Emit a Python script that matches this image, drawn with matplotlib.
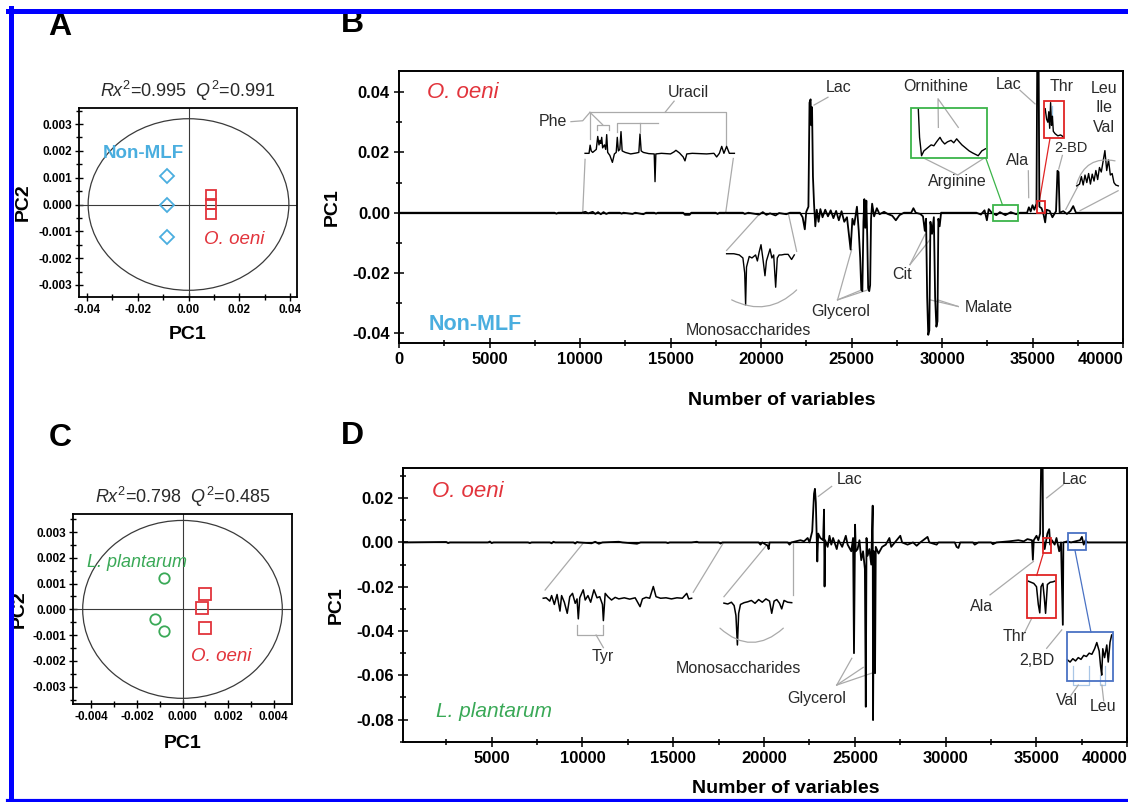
import numpy as np
import matplotlib.pyplot as plt
from matplotlib.patches import Ellipse, Rectangle
from matplotlib.lines import Line2D
from matplotlib.ticker import MultipleLocator, FormatStrFormatter, FixedLocator

plt.rcParams['font.family'] = ['Liberation Sans', 'DejaVu Sans']
plt.rcParams['axes.unicode_minus'] = False
plt.rcParams['mathtext.fontset'] = 'custom'
plt.rcParams['mathtext.rm'] = 'Liberation Sans'
plt.rcParams['mathtext.it'] = 'Liberation Sans:italic'

RED = '#e2343c'
BLUE = '#4aaedf'
GREEN = '#3aa957'
BOXGREEN = '#3cb44a'
BOXRED = '#e02424'
BOXBLUE = '#4a72c4'
GREY = '#aaaaaa'
TXT = '#2a2a2a'

# ---- score plots (A, C) ----
a_nonmlf_pc1 = [-0.0085, -0.0085, -0.0085]
a_nonmlf_pc2 = [0.00108, 0.0, -0.0012]
a_oeni_pc1 = [0.0087, 0.0087, 0.0087]
a_oeni_pc2 = [0.00037, 0.00003, -0.00034]

c_lplant_pc1 = [-0.00081, -0.0012, -0.0008]
c_lplant_pc2 = [0.00121, -0.00039, -0.00083]
c_oeni_pc1 = [0.00098, 0.00086, 0.001]
c_oeni_pc2 = [0.0006, 0.00004, -0.00074]

# ---- loading plot B: (variable, PC1 loading) ----
spec_b = [
    (0, 0), (8600, 0), (8700, -0.0003), (8800, 0), (10100, 0), (10300, 0.0003), (10450, -0.0002),
    (10700, 0.0003), (10850, -0.0004), (11000, 0.0002), (11150, -0.0005), (11300, 0.0002),
    (11450, -0.0004), (11600, 0), (12200, 0), (12300, -0.0003), (12400, 0), (12900, -0.0004),
    (13050, 0), (13500, -0.0005), (13650, 0), (14100, 0), (14200, -0.0003), (14300, 0),
    (15700, 0), (15800, -0.0007), (16050, -0.0007), (16150, 0), (17500, 0), (17600, -0.0004),
    (17700, 0), (19000, 0), (19100, -0.0004), (19300, 0), (19900, -0.0006), (20100, 0.0002),
    (20300, -0.0007), (20500, -0.0002), (20800, -0.0009), (21000, -0.0001), (21400, -0.0005),
    (21600, 0), (22150, 0), (22300, -0.0015), (22420, -0.0055), (22500, 0.0003), (22620, 0.002),
    (22680, 0.0365), (22740, 0.0376), (22780, 0.029), (22820, 0.035), (22870, 0.012),
    (22930, 0.003), (23000, -0.0045), (23080, 0.001), (23180, -0.003), (23280, 0.0012),
    (23400, -0.0015), (23550, 0.001), (23700, -0.0012), (23850, 0.0008), (24000, -0.0018),
    (24150, 0.0006), (24300, -0.0025), (24450, 0.0005), (24600, -0.003), (24750, -0.0015),
    (24850, -0.007), (24950, -0.0122), (25050, -0.002), (25150, -0.004), (25300, 0.002),
    (25400, -0.006), (25480, -0.015), (25540, -0.0255), (25600, -0.026), (25660, -0.003),
    (25710, 0.0045), (25760, -0.005), (25820, 0.004), (25870, -0.008), (25920, -0.025),
    (25980, -0.026), (26030, -0.024), (26080, -0.002), (26140, 0.003), (26250, -0.0012),
    (26400, 0.0015), (26550, -0.0005), (26800, 0.0003), (27000, -0.0004), (27250, -0.001),
    (27450, -0.0025), (27650, -0.0008), (27900, 0), (28300, 0), (28420, 0.0015), (28550, 0),
    (28800, -0.0004), (28950, -0.0012), (29050, -0.006), (29120, -0.002), (29180, -0.028),
    (29240, -0.0405), (29300, -0.039), (29360, -0.003), (29450, -0.007), (29550, -0.0015),
    (29620, -0.028), (29690, -0.0378), (29750, -0.036), (29800, -0.002), (29870, -0.0045),
    (29950, 0), (31900, 0), (32150, -0.0006), (32350, 0.0008), (32480, -0.0025), (32580, 0.0012),
    (32750, 0), (33000, -0.0008), (33200, 0.0002), (33500, -0.0008), (33800, 0.0002),
    (34100, -0.0005), (34300, 0), (34700, 0), (34800, 0.0018), (34900, 0.0004), (35000, 0.0025),
    (35100, 0.001), (35220, 0.003), (35270, 0.06), (35330, 0.06), (35380, 0.002), (35500, 0.0015),
    (35620, -0.0008), (35700, -0.0032), (35780, 0.001), (35950, 0.0006), (36100, -0.0015),
    (36300, 0.0005), (36380, 0.0139), (36440, 0.0135), (36500, 0), (36700, 0.0005),
    (36900, -0.0004), (37100, 0.0006), (37250, 0.0022), (37400, 0), (38000, 0), (40000, 0)]

# zoomed traces shown inside panel B (drawn where they sit in the figure)
b_uracil = [
    (10280, 0.0197), (10500, 0.0197), (10560, 0.0224), (10620, 0.0205), (10700, 0.0200),
    (10900, 0.0210), (10980, 0.0253), (11050, 0.0225), (11100, 0.0240), (11150, 0.0230),
    (11200, 0.0250), (11250, 0.0215), (11350, 0.0225), (11420, 0.0210), (11475, 0.0259),
    (11530, 0.0200), (11650, 0.0190), (11790, 0.0167), (11900, 0.0195), (12000, 0.0200),
    (12060, 0.0250), (12120, 0.0205), (12200, 0.0210), (12265, 0.0269), (12330, 0.0205),
    (12500, 0.0200), (12800, 0.0195), (13100, 0.0198), (13250, 0.0200), (13315, 0.0261),
    (13380, 0.0205), (13500, 0.0200), (13800, 0.0196), (14100, 0.0195), (14145, 0.0103),
    (14190, 0.0195), (14500, 0.0197), (15000, 0.0195), (15200, 0.0202), (15300, 0.0207),
    (15500, 0.0198), (15700, 0.0185), (15800, 0.0172), (15900, 0.0195), (16200, 0.0197),
    (17000, 0.0195), (17400, 0.0197), (17550, 0.0185), (17700, 0.0197), (17830, 0.0220),
    (17950, 0.0197), (18100, 0.0220), (18250, 0.0197), (18530, 0.0197)]
b_monosacch = [
    (18100, -0.0136), (18500, -0.0136), (18800, -0.0140), (19000, -0.0150), (19100, -0.0200),
    (19150, -0.0306), (19200, -0.0180), (19350, -0.0145), (19500, -0.0150), (19700, -0.0140),
    (19800, -0.0160), (19900, -0.0130), (20000, -0.0106), (20100, -0.0150), (20220, -0.0209),
    (20300, -0.0160), (20400, -0.0140), (20500, -0.0120), (20600, -0.0150), (20700, -0.0140),
    (20810, -0.0247), (20900, -0.0150), (21000, -0.0140), (21130, -0.0140), (21300, -0.0138),
    (21500, -0.0138), (21690, -0.0155), (21840, -0.0140)]
b_ornithine = [
    (28690, 0.0345), (28760, 0.0250), (28870, 0.0189), (29000, 0.0205), (29200, 0.0215),
    (29400, 0.0225), (29550, 0.0222), (29700, 0.0235), (29890, 0.0250), (30000, 0.0238),
    (30150, 0.0228), (30300, 0.0235), (30500, 0.0240), (30650, 0.0232), (30810, 0.0245),
    (30950, 0.0235), (31100, 0.0225), (31300, 0.0215), (31500, 0.0205), (31700, 0.0198),
    (32000, 0.0189), (32200, 0.0205), (32400, 0.0212)]
b_thr = [
    (35700, 0.0345), (35780, 0.0310), (35850, 0.0300), (35900, 0.0335), (35950, 0.0280),
    (36000, 0.0365), (36050, 0.0290), (36100, 0.0320), (36150, 0.0270), (36250, 0.0262),
    (36400, 0.0255), (36550, 0.0258), (36700, 0.0252)]
b_leu = [
    (37440, 0.0089), (37600, 0.0095), (37700, 0.0120), (37800, 0.0092), (37900, 0.0125),
    (38000, 0.0100), (38100, 0.0130), (38200, 0.0095), (38300, 0.0128), (38400, 0.0105),
    (38500, 0.0140), (38600, 0.0110), (38700, 0.0150), (38800, 0.0135), (38900, 0.0170),
    (39000, 0.0206), (39100, 0.0140), (39200, 0.0175), (39300, 0.0125), (39400, 0.0130),
    (39500, 0.0100), (39600, 0.0092), (39740, 0.0089)]

# ---- loading plot D ----
spec_d = [
    (0, 0), (2500, 0.0002), (2600, -0.0003), (2700, 0), (4800, 0), (4900, 0.0004), (5000, -0.0003),
    (5100, 0), (7000, 0), (7100, -0.0003), (7200, 0), (8200, 0), (8300, -0.0004), (8400, 0.0003),
    (8500, 0), (9500, 0), (9600, -0.0005), (9700, 0.0002), (9800, 0), (10500, -0.0004),
    (10700, 0.0003), (10900, -0.0006), (11100, 0), (12000, 0.0003), (12200, 0), (13000, -0.0006),
    (13200, 0), (14600, 0), (14700, -0.0003), (14800, 0), (16000, 0), (16300, 0.0003), (16400, 0),
    (17500, 0), (17600, -0.0005), (17700, 0), (19700, 0), (19800, -0.001), (19900, 0),
    (20200, -0.0015), (20250, -0.003), (20300, 0), (21300, 0), (21400, -0.001), (21500, 0),
    (22000, 0.001), (22200, 0.0005), (22400, 0.002), (22500, 0), (22650, 0.005), (22750, 0.022),
    (22800, 0.0242), (22850, 0.018), (22930, -0.0086), (22980, 0.004), (23100, 0.002),
    (23250, 0.001), (23300, 0.0148), (23330, -0.0199), (23360, 0.001), (23500, -0.002),
    (23600, 0.003), (23700, -0.001), (23800, 0.002), (24000, -0.003), (24100, 0.001),
    (24300, -0.002), (24500, 0.003), (24600, -0.001), (24800, -0.004), (24900, 0.002),
    (24950, -0.050), (25010, 0.008), (25050, -0.004), (25150, -0.003), (25250, 0.001),
    (25350, -0.008), (25450, -0.004), (25550, -0.012), (25600, -0.0742), (25640, 0.002),
    (25700, -0.006), (25800, -0.003), (25900, -0.010), (25980, 0.0166), (26000, -0.0802),
    (26050, -0.004), (26110, -0.059), (26150, -0.002), (26300, -0.005), (26500, -0.002),
    (26700, -0.001), (26900, 0.002), (27000, -0.002), (27200, 0), (27500, 0.003), (27600, 0),
    (27900, -0.001), (28200, 0), (28400, -0.0015), (28600, 0), (29000, 0.0025), (29100, 0),
    (29500, -0.001), (29600, 0), (30500, 0), (30600, -0.002), (30700, -0.0025), (30800, 0),
    (31500, 0), (31600, -0.001), (31800, 0), (32500, 0), (32600, -0.0008), (32800, 0),
    (33500, 0.0005), (34000, 0.001), (34300, 0.0005), (34500, 0.0015), (34750, 0.001),
    (34800, -0.0078), (34850, 0.001), (35000, 0.003), (35100, 0.001), (35200, 0.004),
    (35280, 0.05), (35330, 0.05), (35360, 0.002), (35450, -0.003), (35600, 0.004), (35700, 0.006),
    (35750, -0.001), (35850, 0.001), (36000, -0.001), (36100, 0.002), (36250, -0.004),
    (36350, 0), (36450, -0.0372), (36480, 0), (36700, 0.0005), (36900, 0), (37400, 0.001),
    (37500, 0.0025), (37600, -0.001), (37700, 0.001), (37800, 0), (40000, 0)]

d_tyr = [
    (7840, -0.0252), (8000, -0.0250), (8200, -0.0265), (8300, -0.0240), (8450, -0.0280),
    (8600, -0.0235), (8760, -0.0310), (8850, -0.0240), (9000, -0.0270), (9160, -0.0320),
    (9300, -0.0245), (9450, -0.0230), (9600, -0.0275), (9700, -0.0255), (9770, -0.0345),
    (9850, -0.0250), (10040, -0.0214), (10150, -0.0260), (10300, -0.0240), (10450, -0.0270),
    (10630, -0.0214), (10800, -0.0250), (10950, -0.0245), (11100, -0.0280), (11150, -0.0353),
    (11250, -0.0230), (11400, -0.0245), (11600, -0.0260), (11800, -0.0248), (12000, -0.0255),
    (12300, -0.0250), (12600, -0.0256), (12900, -0.0250), (13170, -0.0290), (13300, -0.0255),
    (13500, -0.0248), (13700, -0.0252), (13900, -0.0199), (14050, -0.0245), (14300, -0.0252),
    (14600, -0.0250), (14900, -0.0255), (15200, -0.0250), (15500, -0.0252), (15740, -0.0230),
    (15850, -0.0255), (16010, -0.0252)]
d_monosacch = [
    (17790, -0.0274), (18000, -0.0278), (18200, -0.0270), (18350, -0.0285), (18450, -0.0330),
    (18530, -0.0463), (18600, -0.0320), (18700, -0.0280), (18900, -0.0272), (19100, -0.0268),
    (19300, -0.0262), (19500, -0.0275), (19700, -0.0258), (19900, -0.0270), (20100, -0.0255),
    (20300, -0.0265), (20420, -0.0320), (20550, -0.0265), (20700, -0.0258), (20850, -0.0275),
    (20970, -0.0300), (21100, -0.0262), (21300, -0.0270), (21520, -0.0272)]
d_thr = [
    (34550, -0.0175), (34700, -0.0180), (34850, -0.0185), (35000, -0.0200), (35100, -0.0280),
    (35180, -0.0318), (35250, -0.0200), (35350, -0.0185), (35430, -0.0250), (35500, -0.0320),
    (35600, -0.0190), (35750, -0.0180), (35900, -0.0178), (36000, -0.0175)]
d_valleu = [
    (36700, -0.0530), (36850, -0.0540), (37000, -0.0525), (37150, -0.0535), (37300, -0.0520),
    (37450, -0.0528), (37600, -0.0510), (37750, -0.0515), (37900, -0.0500), (38050, -0.0505),
    (38200, -0.0480), (38320, -0.0452), (38450, -0.0490), (38530, -0.0560), (38590, -0.0599),
    (38650, -0.0480), (38750, -0.0520), (38870, -0.0463), (38950, -0.0540), (39050, -0.0450),
    (39140, -0.0418)]

W, H = 1128, 802
fig = plt.figure(figsize=(W / 100, H / 100), dpi=100)


def px_axes(l, t, r, b):
    return fig.add_axes([l / W, 1 - b / H, (r - l) / W, (b - t) / H])


def bold_ticks(ax):
    plt.setp(ax.get_xticklabels() + ax.get_yticklabels(), fontweight='bold')


def score_plot(ax, xlim, ylim, ell, xstep, ystep, xfmt, xpad, ypad):
    ax.set_xlim(xlim)
    ax.set_ylim(ylim)
    ax.add_patch(Ellipse((0, 0), ell[0], ell[1], fill=False, ec='#3a3a3a', lw=0.9))
    ax.axhline(0, color='#3a3a3a', lw=0.8)
    ax.axvline(0, color='#3a3a3a', lw=0.8)
    ax.xaxis.set_major_locator(MultipleLocator(xstep))
    ax.xaxis.set_minor_locator(MultipleLocator(xstep / 2))
    ax.yaxis.set_major_locator(MultipleLocator(ystep))
    ax.yaxis.set_minor_locator(MultipleLocator(ystep / 2))
    ax.xaxis.set_major_formatter(FormatStrFormatter(xfmt))
    ax.yaxis.set_major_formatter(FormatStrFormatter('%.3f'))
    ax.tick_params(which='both', direction='inout', top=False, right=False,
                   labelsize=8.5, width=1, pad=2)
    ax.tick_params(which='major', length=6)
    ax.tick_params(which='minor', length=4)
    for s in ax.spines.values():
        s.set_linewidth(1.3)
    ax.set_xlabel('PC1', fontsize=14, fontweight='bold', labelpad=xpad)
    ax.set_ylabel('PC2', fontsize=14, fontweight='bold', labelpad=ypad)
    bold_ticks(ax)


def loading_axes(ax, xlim, ylim, yticks, yminor, xpad):
    ax.set_xlim(xlim)
    ax.set_ylim(ylim)
    ax.axhline(0, color='k', lw=0.9, zorder=1)
    ax.xaxis.set_major_locator(FixedLocator([t for t in range(0, 40001, 5000) if t >= xlim[0]]))
    ax.xaxis.set_minor_locator(MultipleLocator(2500))
    ax.yaxis.set_major_locator(FixedLocator(yticks))
    ax.yaxis.set_minor_locator(FixedLocator(yminor))
    ax.xaxis.set_major_formatter(FormatStrFormatter('%d'))
    ax.yaxis.set_major_formatter(FormatStrFormatter('%.2f'))
    ax.tick_params(which='both', direction='inout', top=False, right=False,
                   labelsize=12, width=1.1, pad=3)
    ax.tick_params(which='major', length=7)
    ax.tick_params(which='minor', length=5)
    for s in ax.spines.values():
        s.set_linewidth(1.4)
    ax.set_xlabel('Number of variables', fontsize=14, fontweight='bold', labelpad=xpad, x=0.529)
    ax.set_ylabel('PC1', fontsize=14, fontweight='bold', labelpad=8)
    bold_ticks(ax)
    ax.get_xticklabels()[-1].set_ha('right')


def trace(ax, pts, **kw):
    arr = np.array(pts)
    ax.plot(arr[:, 0], arr[:, 1], color=kw.pop('color', 'k'), lw=kw.pop('lw', 1.0), **kw)


def lead(ax, *pts, color=GREY, lw=0.9):
    arr = np.array(pts)
    ax.plot(arr[:, 0], arr[:, 1], color=color, lw=lw, zorder=1.5)


def arc(ax, p0, p1, rad, color=GREY):
    ax.annotate('', xy=p1, xytext=p0,
                arrowprops=dict(arrowstyle='-', color=color, lw=0.9, shrinkA=0, shrinkB=0,
                                connectionstyle='arc3,rad=%s' % rad))


def note(ax, x, y, s, size=11.5, **kw):
    ax.text(x, y, s, ha='center', va='center', fontsize=size, color=kw.pop('color', TXT), **kw)


def box(ax, x0, x1, y0, y1, color):
    ax.add_patch(Rectangle((x0, y0), x1 - x0, y1 - y0, fill=False, ec=color, lw=1.3, zorder=3))


# ---------------- A ----------------
axA = px_axes(79, 108, 297, 297)
score_plot(axA, (-0.0431, 0.0427), (-0.00345, 0.0036), (0.079, 0.0064), 0.02, 0.001, '%.2f', 7, 5)
axA.plot(a_nonmlf_pc1, a_nonmlf_pc2, 'D', ms=7, mfc='none', mec=BLUE, mew=1.3)
axA.plot(a_oeni_pc1, a_oeni_pc2, 's', ms=7, mfc='none', mec=RED, mew=1.3)
note(axA, -0.0176, 0.0019, 'Non-MLF', size=13.5, color=BLUE, fontweight='bold')
note(axA, 0.0179, -0.0013, 'O. oeni', size=13.5, color=RED, style='italic')
axA.set_title(r'$\mathit{Rx}^{2}$=0.995  $\mathit{Q}^{2}$=0.991', fontsize=13, pad=8, color=TXT)

# ---------------- C ----------------
axC = px_axes(73, 514, 292, 704)
score_plot(axC, (-0.0048, 0.0048), (-0.00367, 0.0037), (0.00875, 0.0069), 0.002, 0.001, '%.3f', 9, 3)
axC.plot(c_lplant_pc1, c_lplant_pc2, 'o', ms=7.5, mfc='none', mec=GREEN, mew=1.3)
axC.plot(c_oeni_pc1, c_oeni_pc2, 's', ms=8, mfc='none', mec=RED, mew=1.3)
note(axC, -0.00201, 0.00183, 'L. plantarum', size=13, color=GREEN, style='italic')
note(axC, 0.00171, -0.00182, 'O. oeni', size=13.5, color=RED, style='italic')
axC.set_title(r'$\mathit{Rx}^{2}$=0.798  $\mathit{Q}^{2}$=0.485', fontsize=13, pad=8, color=TXT)

# ---------------- B ----------------
axB = px_axes(399, 71, 1123, 343)
loading_axes(axB, (0, 40000), (-0.0432, 0.047), [-0.04, -0.02, 0.0, 0.02, 0.04],
             [-0.03, -0.01, 0.01, 0.03], 18)
trace(axB, spec_b, lw=1.3)
for ins in (b_uracil, b_monosacch, b_ornithine, b_thr, b_leu):
    trace(axB, ins, lw=1.0)
box(axB, 28290, 32470, 0.0181, 0.0348, BOXGREEN)
box(axB, 32840, 34220, -0.0028, 0.0026, BOXGREEN)
box(axB, 35640, 36760, 0.0248, 0.0369, BOXRED)
box(axB, 35230, 35690, -0.0002, 0.0039, BOXRED)
lead(axB, (32420, 0.0181), (33340, 0.0026), color=BOXGREEN)
lead(axB, (35380, 0.0039), (35970, 0.0248), color=BOXRED)
lead(axB, (36060, 0.0318), (36060, 0.0355), color='#9cc8e8')
# uracil / phe
lead(axB, (10150, 0), (10280, 0.0177))
lead(axB, (18050, 0), (18470, 0.018))
lead(axB, (10550, 0.0245), (10550, 0.0333), (18050, 0.0333), (18050, 0.0225))
lead(axB, (14700, 0.0333), (15200, 0.037))
lead(axB, (12040, 0.0268), (12040, 0.0298), (14300, 0.0298))
lead(axB, (13320, 0.0298), (13320, 0.0268))
lead(axB, (10920, 0.0275), (10920, 0.0292), (11600, 0.0292), (11600, 0.0275))
lead(axB, (9500, 0.0302), (10150, 0.0305), (10550, 0.0333))
lead(axB, (10550, 0.0333), (11250, 0.0292))
note(axB, 8490, 0.0303, 'Phe')
note(axB, 15990, 0.0400, 'Uracil')
# monosaccharides
lead(axB, (19950, -0.0002), (18100, -0.0125))
lead(axB, (21510, -0.0002), (21970, -0.0128))
arc(axB, (18380, -0.0289), (21970, -0.0256), 0.35)
note(axB, 19300, -0.0389, 'Monosaccharides')
# lac
lead(axB, (23700, 0.0383), (22930, 0.0357))
note(axB, 24270, 0.0414, 'Lac')
# glycerol
for end in [(25010, -0.0122), (25600, -0.0255), (25950, -0.0255)]:
    lead(axB, (24230, -0.0289), end)
note(axB, 24400, -0.0328, 'Glycerol')
# cit / malate
for end in [(29060, -0.0072), (29340, -0.0089)]:
    lead(axB, (28230, -0.0172), end)
note(axB, 27810, -0.0206, 'Cit')
for end in [(29340, -0.0289), (29760, -0.0289)]:
    lead(axB, (30900, -0.0311), end)
note(axB, 32560, -0.0314, 'Malate')
# ornithine / arginine
lead(axB, (29800, 0.0283), (29780, 0.0378), (30900, 0.0283))
note(axB, 29670, 0.0419, 'Ornithine')
lead(axB, (28930, 0.0183), (30870, 0.0125), (32380, 0.0183))
note(axB, 30870, 0.0102, 'Arginine')
# right-hand labels
lead(axB, (34310, 0.0406), (35140, 0.0361))
note(axB, 33660, 0.0424, 'Lac')
note(axB, 36610, 0.0419, 'Thr')
lead(axB, (34770, 0.0139), (34790, 0.005))
note(axB, 34160, 0.0174, 'Ala')
lead(axB, (36650, 0.0190), (36450, 0.0145))
note(axB, 37110, 0.0213, '2-BD', size=10.5)
lead(axB, (36840, 0.0011), (37520, 0.0089))
lead(axB, (37630, 0.0007), (39730, 0.0073))
arc(axB, (37440, 0.0095), (39560, 0.0172), -0.45)
for yy, s in [(0.0411, 'Leu'), (0.0348, 'Ile'), (0.0283, 'Val')]:
    note(axB, 38950, yy, s)
note(axB, 3500, 0.040, 'O. oeni', size=16, color=RED, style='italic')
note(axB, 4240, -0.0370, 'Non-MLF', size=15.5, color=BLUE, fontweight='bold')

# ---------------- D ----------------
axD = px_axes(402.7, 468, 1127.3, 742)
loading_axes(axD, (100, 40000), (-0.0901, 0.0336), [-0.08, -0.06, -0.04, -0.02, 0.0, 0.02],
             [-0.09, -0.07, -0.05, -0.03, -0.01, 0.01, 0.03], 10)
trace(axD, spec_d, lw=1.3)
for ins in (d_tyr, d_monosacch, d_thr, d_valleu):
    trace(axD, ins, lw=1.1)
box(axD, 34460, 36080, -0.0342, -0.0149, BOXRED)
box(axD, 35340, 35780, -0.0048, 0.0020, BOXRED)
box(axD, 36670, 39230, -0.0624, -0.0405, BOXBLUE)
box(axD, 36760, 37730, -0.0036, 0.0043, BOXBLUE)
lead(axD, (35380, -0.0048), (35010, -0.0149), color=BOXRED)
lead(axD, (37120, -0.0036), (38000, -0.0405), color=BOXBLUE)
# tyr
lead(axD, (10040, -0.0003), (7940, -0.0215))
lead(axD, (17750, -0.0003), (16100, -0.0225))
lead(axD, (9720, -0.0375), (9720, -0.0418), (11150, -0.0418), (11150, -0.0375))
lead(axD, (10750, -0.0418), (11150, -0.0475))
note(axD, 11090, -0.0516, 'Tyr')
# monosaccharides
lead(axD, (20230, -0.0003), (17790, -0.0245))
lead(axD, (21580, -0.0003), (21580, -0.0237))
arc(axD, (17570, -0.0387), (21060, -0.0387), 0.45)
note(axD, 18580, -0.0568, 'Monosaccharides')
# lac
lead(axD, (23720, 0.0253), (22990, 0.0208))
note(axD, 24690, 0.0284, 'Lac')
lead(axD, (36480, 0.0261), (35560, 0.0201))
note(axD, 37120, 0.0284, 'Lac')
# glycerol
for end in [(24830, -0.0523), (25460, -0.0564), (26010, -0.0588)]:
    lead(axD, (24000, -0.0644), end)
note(axD, 22900, -0.0704, 'Glycerol')
# ala / thr / 2,BD
lead(axD, (32440, -0.0237), (34830, -0.0086))
note(axD, 31980, -0.0290, 'Ala')
lead(axD, (34370, -0.0403), (34740, -0.0342))
note(axD, 33820, -0.0425, 'Thr')
lead(axD, (35560, -0.0478), (36390, -0.0395))
note(axD, 35010, -0.0531, '2,BD')
# val / leu
lead(axD, (37000, -0.0560), (37000, -0.0644), (37900, -0.0644), (37900, -0.0560), color='#a9c6e6')
lead(axD, (37300, -0.0644), (36900, -0.0690))
lead(axD, (38500, -0.0600), (38500, -0.0644), (38750, -0.0644), (38750, -0.0560), color='#a9c6e6')
lead(axD, (38600, -0.0644), (38700, -0.0715))
note(axD, 36670, -0.0715, 'Val')
note(axD, 38680, -0.0742, 'Leu')
note(axD, 3660, 0.0231, 'O. oeni', size=16, color=RED, style='italic')
note(axD, 5140, -0.0765, 'L. plantarum', size=15, color=GREEN, style='italic')

# panel letters
for x, y, s in [(60, 27, 'A'), (352, 24, 'B'), (60, 438, 'C'), (352, 436, 'D')]:
    fig.text(x / W, 1 - y / H, s, fontsize=23, fontweight='bold', ha='center', va='center')

# blue frame
for xs, ys, lw in [([10.5, 10.5], [8, H], 3.6), ([8, W], [10.5, 10.5], 3.6), ([8, W], [800.5, 800.5], 3.0)]:
    fig.add_artist(Line2D([x / W for x in xs], [1 - y / H for y in ys], color='#0000ff',
                          lw=lw, transform=fig.transFigure, zorder=10))

fig.savefig('out.png', dpi=100)
